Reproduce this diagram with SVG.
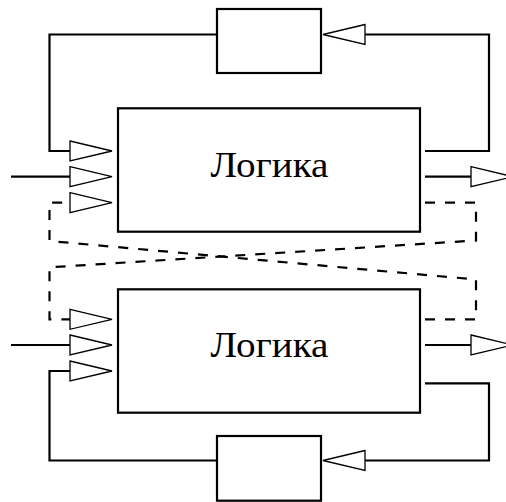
<svg xmlns="http://www.w3.org/2000/svg" width="506" height="502" viewBox="0 0 506 502">
<defs>
<style>
.box{fill:#fff;stroke:#000;stroke-width:2.2}
.wire{fill:none;stroke:#000;stroke-width:2.2}
.dash{fill:none;stroke:#000;stroke-width:2.2;stroke-dasharray:10 10}
.arr{fill:#fff;stroke:#000;stroke-width:1.3;stroke-linejoin:miter}
.lbl{font-family:"Liberation Serif","Times New Roman",serif;font-size:36px;fill:#000}
</style>
<polygon id="ar" class="arr" points="0,-10 42,0 0,10"/>
<polygon id="al" class="arr" points="0,-10 -42,0 0,10"/>
</defs>
<g id="connectors">
<!-- top feedback loop -->
<path class="wire" d="M217,34.5 H49.5 V151 H70"/>
<path class="wire" d="M425,151 H489 V34.5 H365"/>
<!-- bottom feedback loop -->
<path class="wire" d="M70,371 H49.5 V460.5 H217"/>
<path class="wire" d="M425,383.3 H489 V460.5 H365"/>
<!-- external inputs/outputs -->
<path class="wire" d="M11,176.7 H70"/>
<path class="wire" d="M11,345 H70"/>
<path class="wire" d="M425,176.7 H471"/>
<path class="wire" d="M425,345 H471"/>
<!-- cross-coupled dashed links -->
<path class="dash" d="M425,202.7 H476 V240.5 L49.5,267.3 V319.3 H70"/>
<path class="dash" d="M425,319.3 H476 V279.5 L49.5,241 V202.7 H70"/>
<!-- arrowheads -->
<use href="#ar" x="70" y="151"/>
<use href="#ar" x="70" y="176.7"/>
<use href="#ar" x="70" y="202.7"/>
<use href="#ar" x="70" y="319.3"/>
<use href="#ar" x="70" y="345"/>
<use href="#ar" x="70" y="371"/>
<use href="#ar" x="471" y="176.7"/>
<use href="#ar" x="471" y="345"/>
<use href="#al" x="365" y="34.5"/>
<use href="#al" x="365" y="460.5"/>
</g>
<g id="delay-top"><rect class="box" x="217" y="9" width="104" height="64"/></g>
<g id="logic-top"><rect class="box" x="118" y="108.3" width="302" height="123.4"/>
<text class="lbl" x="269.5" y="176.7" text-anchor="middle" textLength="118" lengthAdjust="spacingAndGlyphs">Логика</text></g>
<g id="logic-bottom"><rect class="box" x="118" y="289.3" width="302" height="123.4"/>
<text class="lbl" x="269.5" y="356.7" text-anchor="middle" textLength="118" lengthAdjust="spacingAndGlyphs">Логика</text></g>
<g id="delay-bottom"><rect class="box" x="217" y="436" width="104" height="64.7"/></g>
</svg>
